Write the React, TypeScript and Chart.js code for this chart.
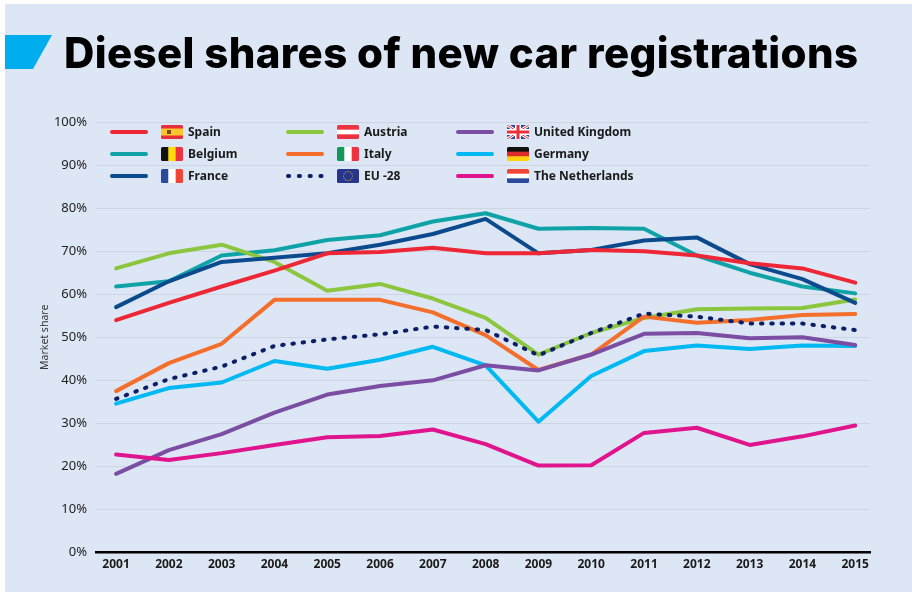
import React, { useEffect, useRef } from "react";
import { Chart, registerables } from "chart.js";

Chart.register(...registerables);

const years = [2001, 2002, 2003, 2004, 2005, 2006, 2007, 2008, 2009, 2010, 2011, 2012, 2013, 2014, 2015];
const spain = [54, 58, 61.8, 65.5, 69.5, 69.8, 70.8, 69.5, 69.5, 70.3, 70, 69, 67.2, 66, 62.7];
const belgium = [61.8, 63, 69, 70.2, 72.6, 73.7, 76.9, 78.8, 75.2, 75.4, 75.2, 69, 65, 61.8, 60.2];
const france = [57, 63, 67.5, 68.5, 69.5, 71.5, 74, 77.5, 69.5, 70.3, 72.5, 73.2, 67, 63.5, 58];
const austria = [66, 69.5, 71.5, 67.5, 60.8, 62.4, 59, 54.5, 46, 51, 54.5, 56.5, 56.7, 56.8, 58.8];
const italy = [37.5, 44, 48.5, 58.7, 58.7, 58.7, 55.8, 50.5, 42.4, 46, 54.8, 53.4, 54, 55.2, 55.4];
const eu28 = [35.7, 40.3, 43.2, 48, 49.5, 50.7, 52.5, 51.7, 45.8, 51, 55.5, 54.8, 53.2, 53.2, 51.7];
const uk = [18.3, 23.8, 27.5, 32.5, 36.7, 38.7, 40, 43.5, 42.3, 46, 50.8, 51, 49.8, 50, 48.2];
const germany = [34.6, 38.2, 39.5, 44.5, 42.7, 44.8, 47.8, 43.5, 30.4, 41, 46.8, 48.1, 47.3, 48.1, 48];
const netherlands = [22.8, 21.5, 23.1, 25, 26.8, 27.1, 28.6, 25.2, 20.2, 20.3, 27.8, 29, 25, 27, 29.5];

const titleText = "Diesel shares of new car registrations";
const yAxisTitle = "Market share";

const seriesList = [
  { label: "Spain", data: spain, color: "#ee2737", bands: ["#e8303a", "#fbc62d", "#fbc62d", "#e8303a"], vertical: false },
  { label: "Belgium", data: belgium, color: "#0fa3a8", bands: ["#111111", "#fcdd09", "#ee3340"], vertical: true },
  { label: "France", data: france, color: "#0b4a8c", bands: ["#2b4a9b", "#ffffff", "#ef4638"], vertical: true },
  { label: "Austria", data: austria, color: "#8cc63f", bands: ["#ee3340", "#ffffff", "#ee3340"], vertical: false },
  { label: "Italy", data: italy, color: "#f36f2b", bands: ["#119a55", "#ffffff", "#ee3340"], vertical: true },
  { label: "EU -28", data: eu28, color: "#0b1f66", bands: ["#27358f"], vertical: false },
  { label: "United Kingdom", data: uk, color: "#7b4ea3", bands: ["#2b4a9b"], vertical: false },
  { label: "Germany", data: germany, color: "#00b9f2", bands: ["#111111", "#dd2c2c", "#fdd20a"], vertical: false },
  { label: "The Netherlands", data: netherlands, color: "#e0148c", bands: ["#ef4638", "#ffffff", "#2b4a9b"], vertical: false },
];

// first name is painted first, last name ends up on top
const paintOrder = ["Germany", "Belgium", "Austria", "Italy", "United Kingdom", "EU -28", "The Netherlands", "France", "Spain"];

const legendColumns = [110, 286, 456];
const legendRows = [132, 154, 176];

function drawFlag(ctx: CanvasRenderingContext2D, s: any, x: number, y: number, w: number, h: number) {
  ctx.save();
  ctx.beginPath();
  ctx.roundRect(x, y, w, h, 1.5);
  ctx.clip();
  const n = s.bands.length;
  s.bands.forEach((c: string, i: number) => {
    ctx.fillStyle = c;
    if (s.vertical) ctx.fillRect(x + (i * w) / n, y, w / n + 0.5, h);
    else ctx.fillRect(x, y + (i * h) / n, w, h / n + 0.5);
  });
  if (s.label === "United Kingdom") {
    ctx.strokeStyle = "#ffffff";
    ctx.lineWidth = 3;
    ctx.beginPath();
    ctx.moveTo(x, y); ctx.lineTo(x + w, y + h);
    ctx.moveTo(x + w, y); ctx.lineTo(x, y + h);
    ctx.stroke();
    ctx.strokeStyle = "#e8303a";
    ctx.lineWidth = 1;
    ctx.stroke();
    ctx.fillStyle = "#ffffff";
    ctx.fillRect(x + w / 2 - 3, y, 6, h);
    ctx.fillRect(x, y + h / 2 - 3, w, 6);
    ctx.fillStyle = "#e8303a";
    ctx.fillRect(x + w / 2 - 1.5, y, 3, h);
    ctx.fillRect(x, y + h / 2 - 1.5, w, 3);
  }
  if (s.label === "Spain") {
    ctx.fillStyle = "#7a4a1a";
    ctx.fillRect(x + 6, y + 5, 4, 4);
  }
  if (s.label === "EU -28") {
    ctx.fillStyle = "#e0b92a";
    for (let i = 0; i < 12; i++) {
      const a = (i * Math.PI) / 6;
      ctx.beginPath();
      ctx.arc(x + w / 2 + Math.cos(a) * 4.5, y + h / 2 + Math.sin(a) * 4.5, 0.6, 0, Math.PI * 2);
      ctx.fill();
    }
  }
  ctx.restore();
}

const decorPlugin = {
  id: "decor",
  beforeDraw(chart: any) {
    const { ctx, width, height } = chart;
    ctx.save();
    ctx.fillStyle = "#ffffff";
    ctx.fillRect(0, 0, width, height);
    ctx.fillStyle = "#dce6f4";
    ctx.fillRect(5, 4, width - 5, height - 4);
    ctx.fillStyle = "#00aeef";
    ctx.beginPath();
    ctx.moveTo(5, 35);
    ctx.lineTo(52, 35);
    ctx.lineTo(33, 69);
    ctx.lineTo(5, 69);
    ctx.closePath();
    ctx.fill();
    ctx.fillStyle = "#000000";
    ctx.font = "800 42px Inter";
    ctx.textAlign = "left";
    ctx.textBaseline = "alphabetic";
    const natural = ctx.measureText(titleText).width;
    (ctx as any).letterSpacing = `${(794 - natural) / (titleText.length - 1)}px`;
    ctx.fillText(titleText, 64, 68);
    ctx.restore();
  },
  afterDatasetsDraw(chart: any) {
    const { ctx } = chart;
    seriesList.forEach((s, i) => {
      const x = legendColumns[Math.floor(i / 3)];
      const y = legendRows[i % 3];
      ctx.save();
      ctx.strokeStyle = s.color;
      ctx.lineWidth = 4;
      ctx.lineCap = "round";
      if (s.label === "EU -28") ctx.setLineDash([1.2, 9.6]);
      ctx.beginPath();
      ctx.moveTo(x + 2, y);
      ctx.lineTo(x + 36, y);
      ctx.stroke();
      ctx.restore();
      drawFlag(ctx, s, x + 51, y - 7, 22, 14);
      ctx.save();
      ctx.fillStyle = "#1a1a1a";
      ctx.font = "700 12px 'Noto Sans'";
      ctx.textAlign = "left";
      ctx.textBaseline = "middle";
      ctx.fillText(s.label, x + 78, y + 0.5);
      ctx.restore();
    });
  },
};

export default function App() {
  const ref = useRef<HTMLCanvasElement | null>(null);
  useEffect(() => {
    const chart = new Chart(ref.current as HTMLCanvasElement, {
      type: "line",
      data: {
        datasets: seriesList.map((s) => ({
          label: s.label,
          data: s.data.map((v, i) => ({ x: years[i], y: v })),
          borderColor: s.color,
          backgroundColor: s.color,
          borderWidth: 4,
          borderCapStyle: "round",
          borderJoinStyle: "round",
          borderDash: s.label === "EU -28" ? [1.5, 8.8] : undefined,
          pointRadius: 0,
          tension: 0,
          order: paintOrder.length - paintOrder.indexOf(s.label),
        })),
      },
      options: {
        responsive: false,
        animation: false,
        layout: { padding: { left: 0, right: 42, top: 122, bottom: 15 } },
        plugins: { legend: { display: false }, title: { display: false }, tooltip: { enabled: false } },
        scales: {
          x: {
            type: "linear",
            min: 2000.62,
            max: 2015.28,
            afterBuildTicks: (scale: any) => {
              scale.ticks = years.map((y) => ({ value: y }));
            },
            grid: { display: false, drawTicks: false },
            border: { display: true, color: "#000000", width: 2.5 },
            ticks: {
              autoSkip: false,
              maxRotation: 0,
              padding: 5,
              color: "#1a1a1a",
              font: { family: "'Noto Sans'", size: 12, weight: 700 },
              callback: (v: any) => String(v),
            },
          },
          y: {
            min: 0,
            max: 100,
            afterFit: (scale: any) => {
              scale.width = 96;
            },
            grid: { color: "#cdd5e2", lineWidth: 1, drawTicks: false },
            border: { display: false },
            ticks: {
              stepSize: 10,
              padding: 9,
              color: "#222222",
              font: { family: "'Noto Sans'", size: 13 },
              callback: (v: any) => `${v}%`,
            },
            title: {
              display: true,
              text: yAxisTitle,
              color: "#333333",
              font: { family: "'Noto Sans'", size: 10.5 },
              padding: { top: 39, bottom: 0 },
            },
          },
        },
      },
      plugins: [decorPlugin],
    } as any);
    return () => chart.destroy();
  }, []);
  return (
    <div style={{ position: "absolute", left: 0, top: 0, width: 912, height: 592 }}>
      <canvas ref={ref} width={912} height={592} style={{ display: "block" }} />
    </div>
  );
}
